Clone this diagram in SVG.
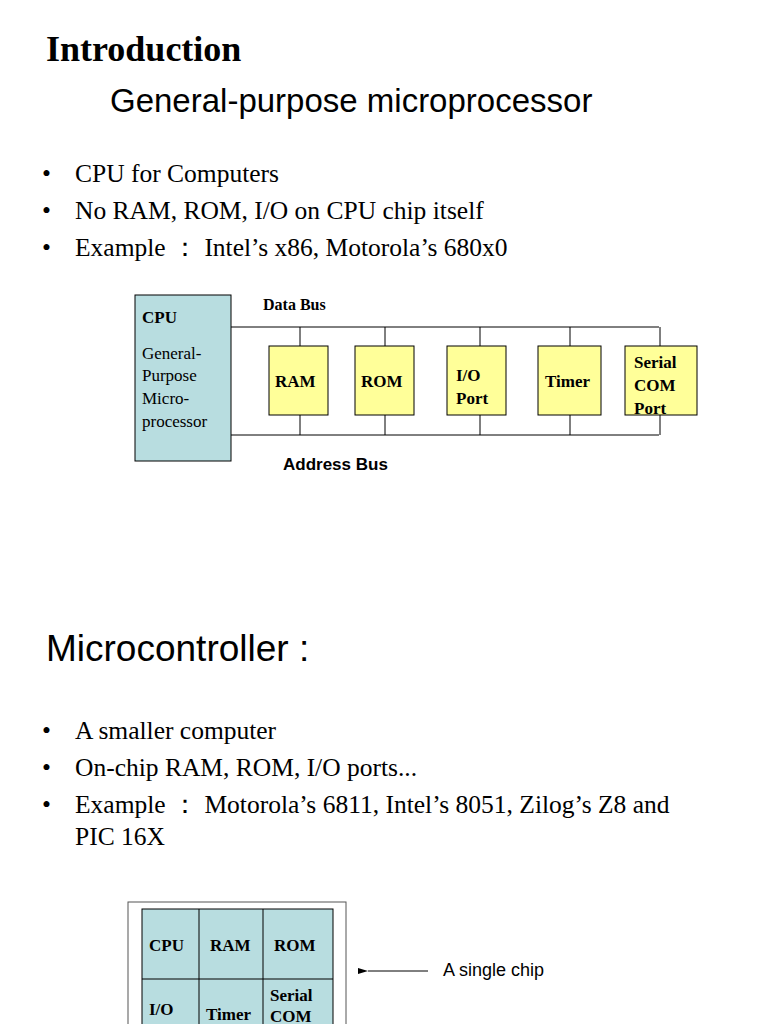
<svg xmlns="http://www.w3.org/2000/svg" width="768" height="1024" viewBox="0 0 768 1024">
<defs><marker id="ah" markerWidth="10" markerHeight="6" refX="0" refY="3" orient="auto" markerUnits="userSpaceOnUse"><path d="M10,0 L0,3 L10,6 Z" fill="#000"/></marker></defs>
<style>
.t{font-family:"Liberation Serif",serif;fill:#000}
.s{font-family:"Liberation Sans",sans-serif;fill:#000}
.b{font-family:"Liberation Serif",serif;font-weight:bold;font-size:17px}
.y{fill:#ffff99;stroke:#000;stroke-width:1}
.c{fill:#b8dde0;stroke:#000;stroke-width:1}
.l{stroke:#000;stroke-width:1;fill:none}
</style>
<rect width="768" height="1024" fill="#fff"/>
<text class="t" x="46" y="61" font-size="36" font-weight="bold">Introduction</text>
<text class="s" x="110" y="112" font-size="33">General-purpose microprocessor</text>
<g class="t" font-size="25.5">
<text x="42" y="182">•</text><text x="75" y="182">CPU for Computers</text>
<text x="42" y="219">•</text><text x="75" y="219">No RAM, ROM, I/O on CPU chip itself</text>
<text x="42" y="256">•</text><text x="75" y="256">Example ： Intel’s x86, Motorola’s 680x0</text>
</g>
<g id="connectors" class="l">
<path d="M231,327 H659 M231,435 H659"/>
<path d="M300,327 V346 M385,327 V346 M480,327 V346 M570,327 V346 M660,327 V346"/>
<path d="M300,415 V435 M385,415 V435 M480,415 V435 M570,415 V435 M660,415 V435"/>
<line x1="428" y1="971" x2="368" y2="971" marker-end="url(#ah)"/>
</g>
<g id="cpu"><rect class="c" x="135" y="295" width="96" height="166"/>
<text class="b" x="142" y="323">CPU</text>
<g class="t" font-size="17"><text x="142" y="359">General-</text><text x="142" y="381">Purpose</text><text x="142" y="404">Micro-</text><text x="142" y="427">processor</text></g></g>
<g id="ram"><rect class="y" x="269" y="346" width="59" height="69"/><text class="b" x="275" y="387">RAM</text></g>
<g id="rom"><rect class="y" x="355" y="346" width="59" height="69"/><text class="b" x="361" y="387">ROM</text></g>
<g id="io"><rect class="y" x="447" y="346" width="59" height="69"/><text class="b" x="456" y="381">I/O</text><text class="b" x="456" y="404">Port</text></g>
<g id="timer"><rect class="y" x="538" y="346" width="63" height="69"/><text class="b" x="545" y="387">Timer</text></g>
<g id="serial"><rect class="y" x="625" y="346" width="72" height="69"/><text class="b" x="634" y="368">Serial</text><text class="b" x="634" y="391">COM</text><text class="b" x="634" y="414">Port</text></g>
<text x="263" y="310" font-size="16" font-weight="bold" font-family="Liberation Serif,serif">Data Bus</text>
<text class="s" x="283" y="470" font-size="17" font-weight="bold">Address Bus</text>
<text class="s" x="46" y="661" font-size="37">Microcontroller :</text>
<g class="t" font-size="25.5">
<text x="42" y="739">•</text><text x="75" y="739">A smaller computer</text>
<text x="42" y="776">•</text><text x="75" y="776">On-chip RAM, ROM, I/O ports...</text>
<text x="42" y="813">•</text><text x="75" y="813">Example ： Motorola’s 6811, Intel’s 8051, Zilog’s Z8 and</text>
<text x="75" y="845">PIC 16X</text>
</g>
<g id="chip">
<rect x="128" y="902" width="218" height="140" fill="#fff" stroke="#555"/>
<rect class="c" x="142" y="909" width="191" height="140"/>
<path class="l" d="M199,909 V1024 M263,909 V1024 M142,979 H333"/>
<text class="b" x="149" y="951">CPU</text><text class="b" x="210" y="951">RAM</text><text class="b" x="274" y="951">ROM</text>
<text class="b" x="149" y="1015">I/O</text><text class="b" x="206" y="1020">Timer</text>
<text class="b" x="270" y="1001">Serial</text><text class="b" x="270" y="1022">COM</text>
</g>
<text class="s" x="443" y="976" font-size="18">A single chip</text>
</svg>
